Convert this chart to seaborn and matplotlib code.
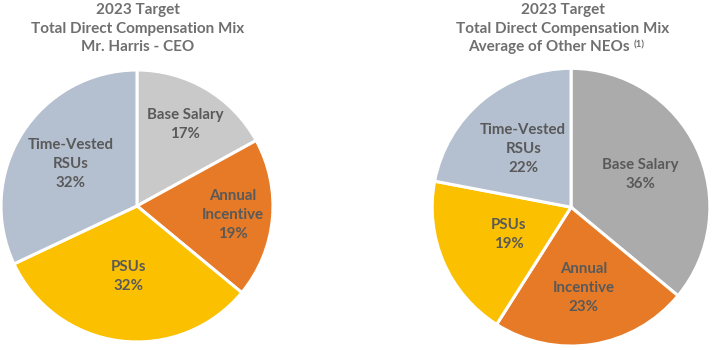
import numpy as np
import matplotlib.pyplot as plt
import seaborn as sns

# chart data
categories = ["Base Salary", "Annual\nIncentive", "PSUs", "Time-Vested\nRSUs"]
ceo_mix = [17, 19, 32, 32]
neo_mix = [36, 23, 19, 22]
ceo_title = ["2023 Target", "Total Direct Compensation Mix", "Mr. Harris - CEO"]
neo_title = ["2023 Target", "Total Direct Compensation Mix", "Average of Other NEOs"]
neo_note = "(1)"

sns.set_theme(style="white")
plt.rcParams['font.family'] = ['Lato', 'DejaVu Sans']

label_color = "#595959"
title_color = "#6f6f6f"

ceo_colors = ["#c9c9c9", "#e67a26", "#fbc000", "#b4bfcf"]
neo_colors = ["#acabac", "#e67a26", "#fbc000", "#b4bfcf"]

# radial position of each label (fraction of radius), as placed in the original
ceo_label_r = [0.70, 0.71, 0.52, 0.58]
neo_label_r = [0.55, 0.59, 0.49, 0.54]

fig = plt.figure(figsize=(7.12, 3.5), dpi=100)


def draw_pie(rect, values, colors, label_r):
    ax = fig.add_axes(rect)
    wedges, _ = ax.pie(values, colors=colors, startangle=90, counterclock=False,
                       wedgeprops=dict(edgecolor="white", linewidth=2.2))
    total = sum(values)
    cum = 0
    for w, v, name, r in zip(wedges, values, categories, label_r):
        mid = 90 - (cum + v / 2) / total * 360
        cum += v
        x = r * np.cos(np.radians(mid))
        y = r * np.sin(np.radians(mid))
        ax.text(x, y, f"{name}\n{v}%", ha="center", va="center",
                fontsize=10.8, fontweight="bold", color=label_color,
                linespacing=1.45)
    ax.set_xlim(-1.0, 1.0)
    ax.set_ylim(-1.0, 1.0)
    ax.set_aspect("equal")
    ax.axis("off")
    for w in wedges:
        w.set_clip_on(False)
    return ax


draw_pie([0.0014, 0.023, 0.382, 0.777], ceo_mix, ceo_colors, ceo_label_r)
draw_pie([0.607, 0.011, 0.390, 0.794], neo_mix, neo_colors, neo_label_r)

title_kw = dict(fontsize=11, fontweight="bold", color=title_color, va="center")
line_y = [1 - 10 / 350, 1 - 28.5 / 350, 1 - 47 / 350]
for line, y in zip(ceo_title, line_y):
    fig.text(138 / 712, y, line, ha="center", **title_kw)
for line, y in zip(neo_title[:2], line_y[:2]):
    fig.text(563 / 712, y, line, ha="center", **title_kw)
last = fig.text(468 / 712, line_y[2], neo_title[2], ha="left", **title_kw)
plt.annotate(neo_note, xy=(1, 1), xycoords=last, xytext=(3, 0),
             textcoords="offset points", ha="left", va="top",
             fontsize=7, fontweight="bold", color=title_color,
             annotation_clip=False)

fig.savefig("out.png", dpi=100, facecolor="white")
